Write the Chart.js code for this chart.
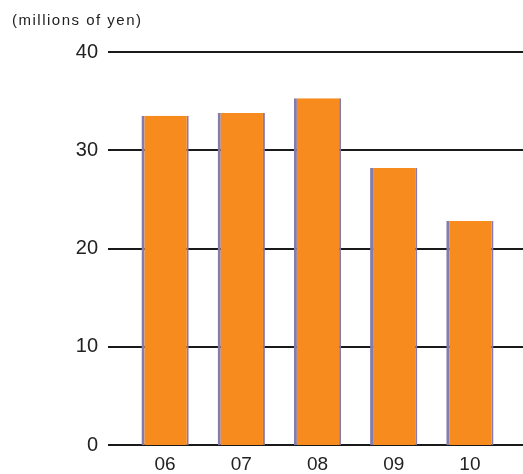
<!DOCTYPE html>
<html>
<head>
<meta charset="utf-8">
<script src="https://cdn.jsdelivr.net/npm/chart.js@4"></script>
<style>
  html, body { margin: 0; padding: 0; background: #fff; width: 523px; height: 474px; overflow: hidden; }
  canvas { display: block; }
</style>
</head>
<body>
<canvas id="myChart" width="523" height="474"></canvas>
<script>
var years = ['06', '07', '08', '09', '10'];
var sales = [33.5, 33.8, 35.3, 28.2, 22.8];
var yTicks = [0, 10, 20, 30, 40];
var unitLabel = '(millions of yen)';

// horizontal rules run past the plot area on both sides
var gridPlugin = {
    id: 'wideGrid',
    beforeDatasetsDraw: function(chart) {
        var ctx = chart.ctx;
        var y = chart.scales.y;
        ctx.save();
        ctx.strokeStyle = '#1a1a1a';
        ctx.lineWidth = 2;
        yTicks.forEach(function(t) {
            var py = Math.round(y.getPixelForValue(t));
            ctx.beginPath();
            ctx.moveTo(108, py);
            ctx.lineTo(chart.width, py);
            ctx.stroke();
        });
        ctx.fillStyle = '#222';
        ctx.font = '15px "Liberation Sans", Arial, sans-serif';
        ctx.letterSpacing = '1.5px';
        ctx.textBaseline = 'top';
        ctx.fillText(unitLabel, 12, 13);
        ctx.restore();
    }
};

document.addEventListener('DOMContentLoaded', function() {
    const myChart = document.getElementById('myChart');
    new Chart(myChart, {
        type: 'bar',
        data: {
            labels: years,
            datasets: [{
                data: sales,
                backgroundColor: '#f78b1e',
                borderColor: '#837cae',
                borderWidth: {left: 3, right: 2, top: 0, bottom: 0},
                borderSkipped: false,
                barPercentage: 0.62,
                categoryPercentage: 1
            }]
        },
        options: {
            responsive: false,
            animation: false,
            layout: {padding: {top: 52, right: 15, left: 0, bottom: 0}},
            plugins: {legend: {display: false}, tooltip: {enabled: false}},
            scales: {
                x: {
                    grid: {display: false, drawTicks: false},
                    border: {display: false},
                    ticks: {
                        color: '#222',
                        padding: 8,
                        font: {family: '"Liberation Sans", Arial, sans-serif', size: 19}
                    },
                    afterFit: function(s) { s.height = 29; }
                },
                y: {
                    min: 0,
                    max: 40,
                    afterBuildTicks: function(s) {
                        s.ticks = yTicks.map(function(v) { return {value: v}; });
                    },
                    grid: {display: false, drawTicks: false},
                    border: {display: false},
                    ticks: {
                        color: '#222',
                        padding: 29,
                        font: {family: '"Liberation Sans", Arial, sans-serif', size: 20}
                    },
                    // fixed width; drop the label overhang so the plot reaches the bottom
                    afterFit: function(s) {
                        s.width = 127;
                        s.paddingTop = 0;
                        s.paddingBottom = 0;
                    }
                }
            }
        },
        plugins: [gridPlugin]
    });
});
</script>
</body>
</html>
